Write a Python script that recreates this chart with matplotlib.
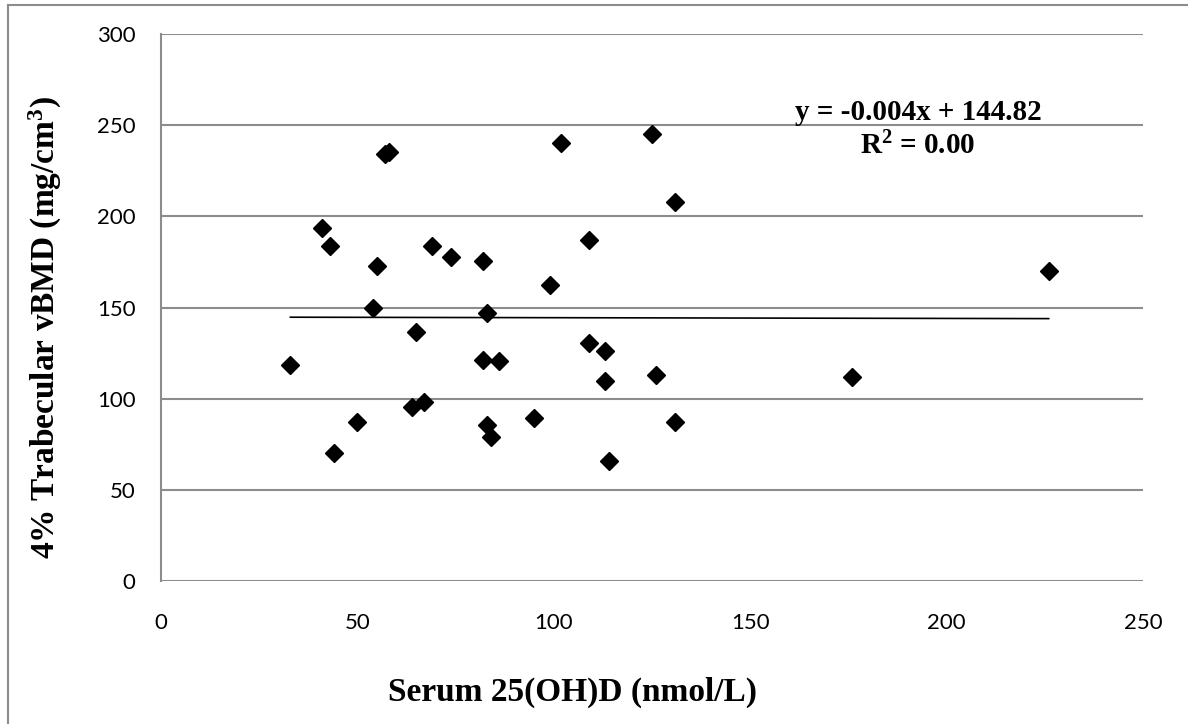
import numpy as np
import matplotlib
matplotlib.use('Agg')
import matplotlib.pyplot as plt
from matplotlib.lines import Line2D

# serum 25(OH)D (nmol/L) vs 4% trabecular vBMD (mg/cm3)
serum_d = [33, 41, 43, 44, 50, 54, 55, 57, 58, 64, 65, 67, 69, 74, 82,
           82, 83, 83, 84, 86, 95, 99, 102, 109, 109, 113, 113, 114, 125,
           126, 131, 131, 176, 226]
vbmd = [118.5, 193.5, 184, 70, 87.2, 150, 173, 234, 235.3, 95.3, 136.8,
        98.4, 184, 177.6, 175.5, 121.2, 146.8, 85.4, 79.2, 120.5, 89.4,
        162.2, 240.4, 187.1, 130.4, 126, 109.5, 65.8, 245.2, 113, 207.7,
        87.4, 112, 170]

# trendline as printed on the chart
slope = -0.004
intercept = 144.82
eq_text = "y = -0.004x + 144.82"
r2_text = "R$^2$ = 0.00"

x_ticks = [0, 50, 100, 150, 200, 250]
y_ticks = [0, 50, 100, 150, 200, 250, 300]

tick_font = 'Lato'
label_font = 'Liberation Serif'
grid_gray = '#8c8c8c'

plt.rcParams['mathtext.fontset'] = 'custom'
plt.rcParams['mathtext.rm'] = 'Liberation Serif:bold'
plt.rcParams['mathtext.it'] = 'Liberation Serif:bold'
plt.rcParams['mathtext.bf'] = 'Liberation Serif:bold'

fig = plt.figure(figsize=(11.88, 7.24), dpi=100)
ax = fig.add_axes([0.1353, 0.1975, 0.8268, 0.7555])

ax.plot(serum_d, vbmd, linestyle='none', marker='D', ms=9,
        color='black', zorder=3)

xt = np.array([min(serum_d), max(serum_d)])
ax.plot(xt, slope * xt + intercept, color='black', linewidth=1.2, zorder=2)

ax.set_xlim(0, 250)
ax.set_ylim(0, 300)
ax.set_xticks(x_ticks)
ax.set_yticks(y_ticks)
ax.tick_params(length=0)
ax.tick_params(axis='y', pad=18)
ax.tick_params(axis='x', pad=23)
for lab in ax.get_xticklabels() + ax.get_yticklabels():
    lab.set_fontfamily(tick_font)
    lab.set_fontsize(16)

ax.yaxis.grid(True, color=grid_gray, linewidth=1.5)
ax.set_axisbelow(True)
for side in ['top', 'right', 'bottom']:
    ax.spines[side].set_visible(False)
ax.spines['left'].set_color(grid_gray)
ax.spines['left'].set_linewidth(1.5)

fig.text(573 / 1188, 1 - 692 / 724, 'Serum 25(OH)D (nmol/L)',
         family=label_font, weight='bold', fontsize=24,
         ha='center', va='center')
fig.text(45 / 1188, 1 - 328 / 724, '4% Trabecular vBMD (mg/cm$^3$)',
         family=label_font, weight='bold', fontsize=24,
         ha='center', va='center', rotation=90)

fig.text(918 / 1188, 1 - 120 / 724, eq_text, family=label_font,
         weight='bold', fontsize=21, ha='center', va='baseline')
fig.text(918 / 1188, 1 - 154 / 724, r2_text, family=label_font,
         weight='bold', fontsize=21, ha='center', va='baseline')

# chart frame (only left and top edges are visible)
fig.add_artist(Line2D([8 / 1188, 8 / 1188], [0, 1 - 5 / 724],
                      transform=fig.transFigure, color=grid_gray, linewidth=1.5))
fig.add_artist(Line2D([8 / 1188, 1], [1 - 5 / 724, 1 - 5 / 724],
                      transform=fig.transFigure, color=grid_gray, linewidth=1.5))

fig.savefig('out.png', dpi=100)
